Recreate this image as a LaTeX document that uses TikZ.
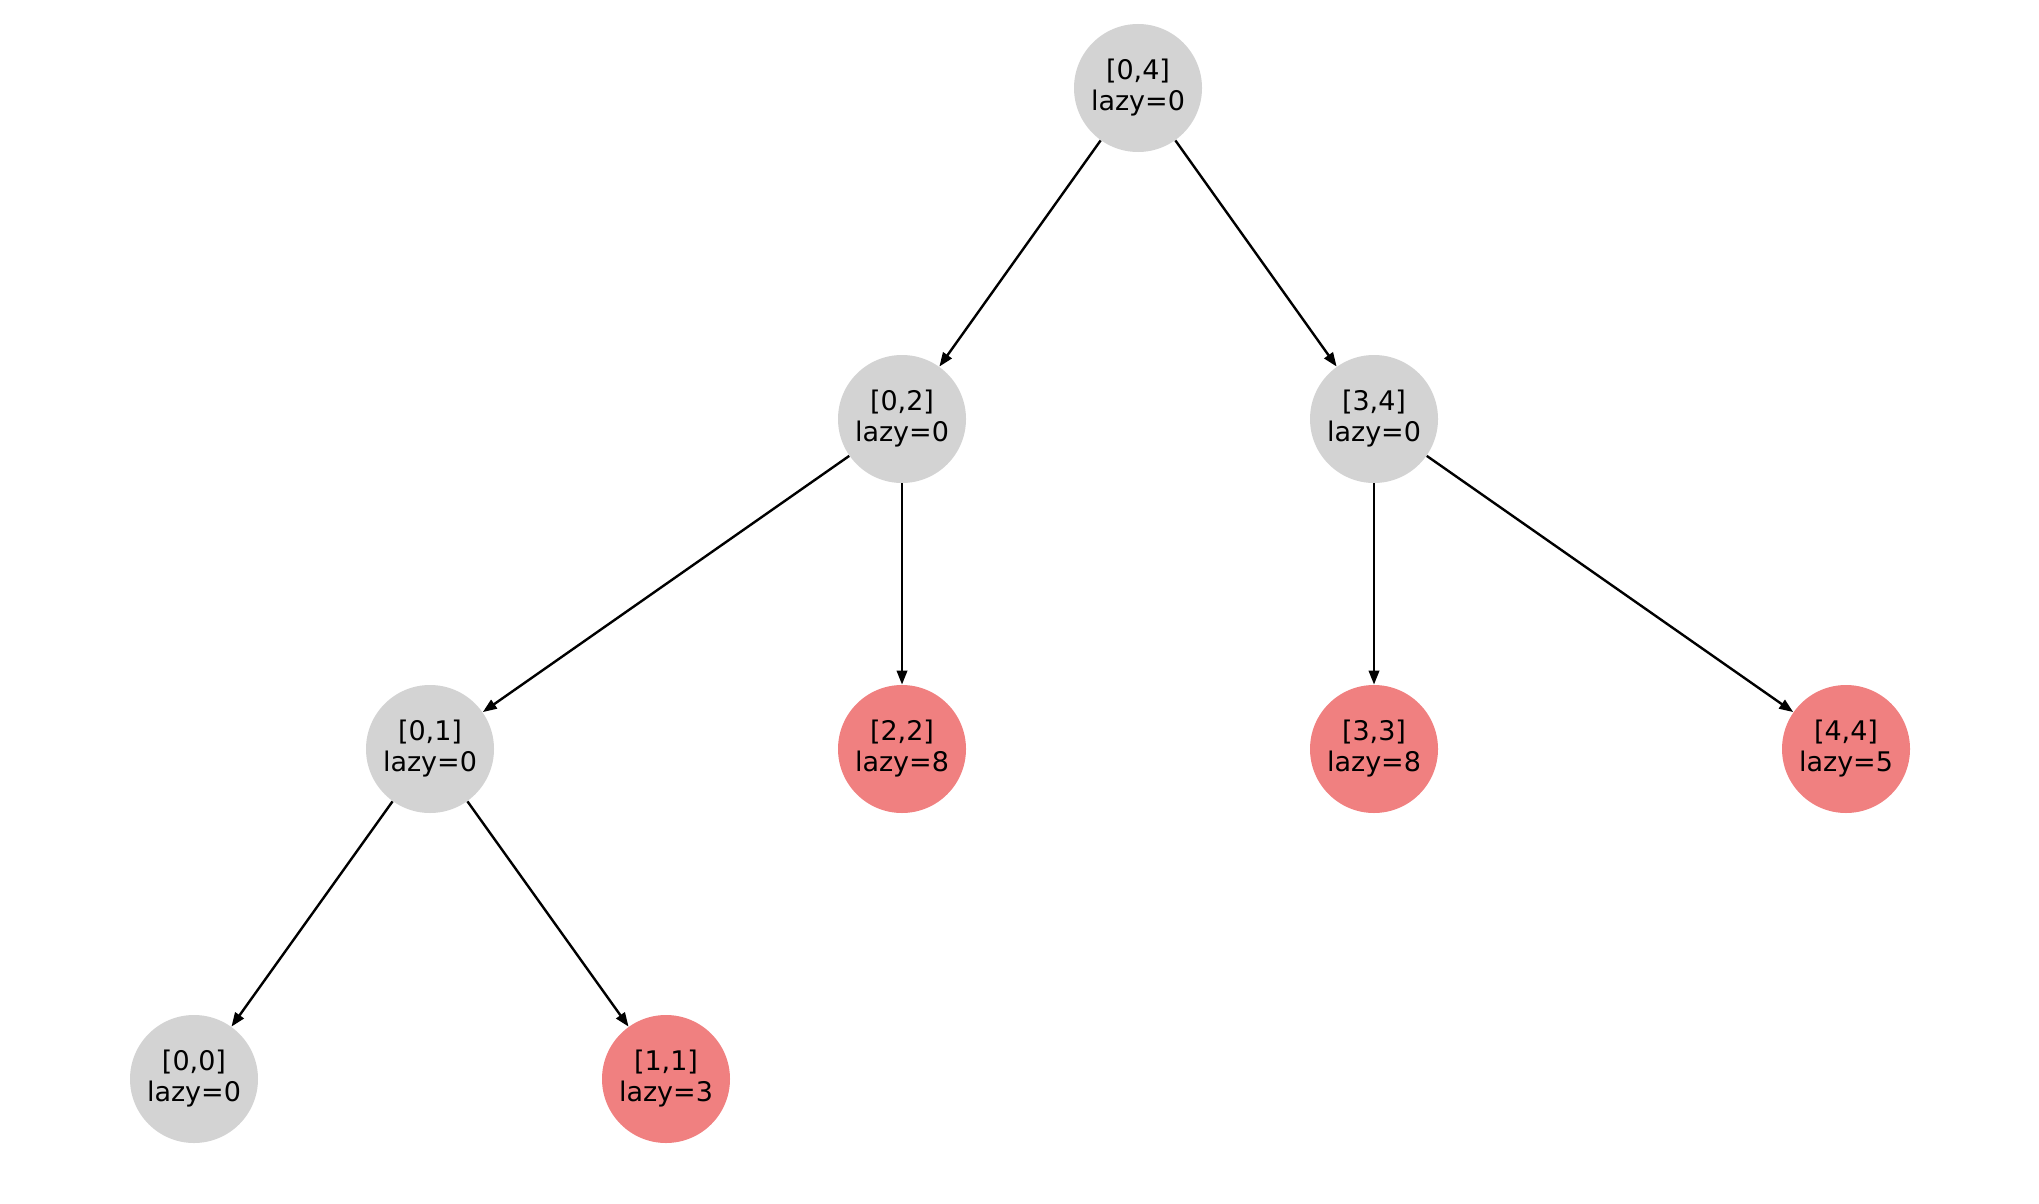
\documentclass[tikz,border=0pt]{standalone}
\usepackage{fontspec}
\setmainfont{DejaVu Sans}
\usetikzlibrary{arrows.meta}
\definecolor{lgray}{HTML}{D3D3D3}
\definecolor{lcoral}{HTML}{F08080}
\begin{document}
\begin{tikzpicture}[x=0.5pt,y=-0.5pt,
  tnode/.style={circle,minimum size=64pt,inner sep=0pt,align=center,
    font=\fontsize{13.5pt}{15.5pt}\selectfont},
  gnode/.style={tnode,fill=lgray},
  rnode/.style={tnode,fill=lcoral},
  edge/.style={-{Triangle[length=7pt,width=5.2pt]},line width=1.2pt,black}]
\useasboundingbox (0,0) rectangle (2039,1204);
\node[gnode] (n04) at (1138,88) {[0,4]\\lazy=0};
\node[gnode] (n02) at (902,419) {[0,2]\\lazy=0};
\node[gnode] (n34) at (1374,419) {[3,4]\\lazy=0};
\node[gnode] (n01) at (430,749) {[0,1]\\lazy=0};
\node[rnode] (n22) at (902,749) {[2,2]\\lazy=8};
\node[rnode] (n33) at (1374,749) {[3,3]\\lazy=8};
\node[rnode] (n44) at (1846,749) {[4,4]\\lazy=5};
\node[gnode] (n00) at (194,1079) {[0,0]\\lazy=0};
\node[rnode] (n11) at (666,1079) {[1,1]\\lazy=3};
\draw[edge] (n04) -- (n02);
\draw[edge] (n04) -- (n34);
\draw[edge] (n02) -- (n01);
\draw[edge] (n02) -- (n22);
\draw[edge] (n34) -- (n33);
\draw[edge] (n34) -- (n44);
\draw[edge] (n01) -- (n00);
\draw[edge] (n01) -- (n11);
\end{tikzpicture}
\end{document}
